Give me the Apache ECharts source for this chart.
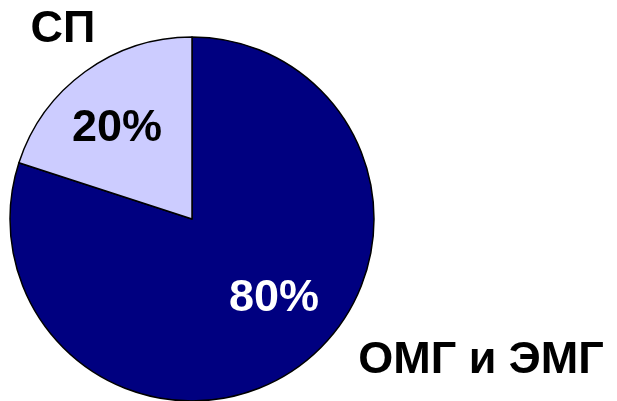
<!DOCTYPE html>
<html><head><meta charset="utf-8">
<script src="https://cdn.jsdelivr.net/npm/echarts@6/dist/echarts.min.js"></script>
<style>html,body{margin:0;padding:0;background:#fff}#c{width:617px;height:401px}</style>
</head><body><div id="c"></div>
<script>
var categories = ['ОМГ и ЭМГ', 'СП'];
var values = [80, 20];
var colors = ['#000080', '#CCCCFF'];
var pctColors = ['#ffffff', '#000000'];
var pctPos = [[274, 299], [117, 129]];
var namePos = [[481, 361], [63, 30]];

var chart = echarts.init(document.getElementById('c'));
var font = '"Liberation Sans", Arial, sans-serif';
var data = categories.map(function (c, i) {
  return { name: c, value: values[i], itemStyle: { color: colors[i] },
    label: { color: pctColors[i] } };
});
var nameData = categories.map(function (c, i) {
  return { name: c, value: values[i] };
});
chart.setOption({
  animation: false,
  series: [
    {
      type: 'pie', center: [192, 219], radius: [0, 182], startAngle: 90, clockwise: true,
      silent: true,
      itemStyle: { borderColor: '#000', borderWidth: 1.5 },
      label: { show: true, position: 'inside', formatter: '{d}%', fontFamily: font,
        fontWeight: 'bold', fontSize: 45 },
      labelLine: { show: false },
      labelLayout: function (p) {
        var q = pctPos[p.dataIndex];
        return { x: q[0], y: q[1], align: 'center', verticalAlign: 'middle' };
      },
      data: data
    },
    {
      type: 'pie', center: [192, 219], radius: [0, 182], startAngle: 90, clockwise: true,
      silent: true,
      itemStyle: { color: 'rgba(0,0,0,0)', borderWidth: 0 },
      label: { show: true, position: 'inside', formatter: '{b}', fontFamily: font,
        fontWeight: 'bold', fontSize: 45, color: '#000' },
      labelLine: { show: false },
      labelLayout: function (p) {
        var q = namePos[p.dataIndex];
        return { x: q[0], y: q[1], align: 'center', verticalAlign: 'middle' };
      },
      data: nameData
    }
  ]
});
</script></body></html>
